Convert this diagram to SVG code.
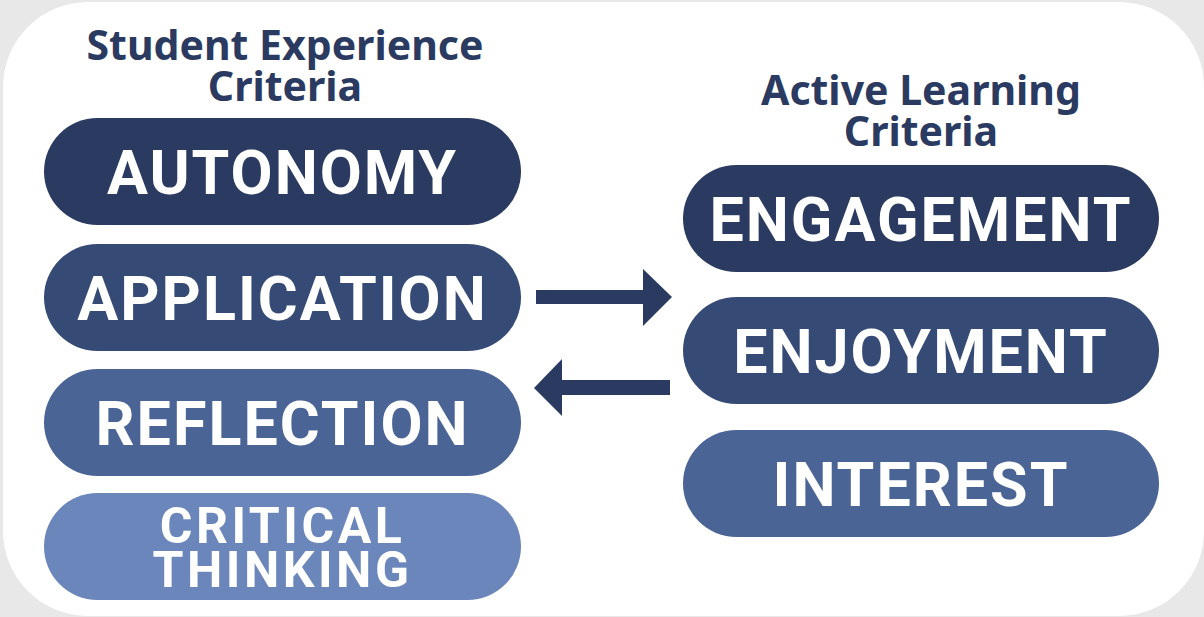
<svg xmlns="http://www.w3.org/2000/svg" width="1204" height="617" viewBox="0 0 1204 617">
  <style>
    .title { font-family: "Noto Sans", "Open Sans", sans-serif; font-weight: 700; font-size: 41px; fill: #2a3a60; text-anchor: middle; }
    .label { font-family: Roboto, "Noto Sans", sans-serif; font-weight: 700; font-size: 61px; fill: #ffffff; text-anchor: middle; letter-spacing: 2px; }
    .label-sm { font-size: 50px; letter-spacing: 3.5px; }
    .c1 { fill: #2a3a60; }
    .c2 { fill: #354a74; }
    .c3 { fill: #4a6496; }
    .c4 { fill: #6a86ba; }
    .arrow { fill: #2a3a60; }
  </style>
  <!-- backdrop and rounded white card -->
  <rect x="0" y="0" width="1204" height="617" fill="#e8e8e8"/>
  <rect x="3" y="2" width="1201" height="614" rx="85" ry="85" fill="#ffffff"/>

  <g id="title-student">
    <text class="title" x="285" y="60">Student Experience<tspan x="285" dy="41">Criteria</tspan></text>
  </g>
  <g id="title-active">
    <text class="title" x="921" y="105">Active Learning<tspan x="921" dy="41">Criteria</tspan></text>
  </g>

  <!-- left column -->
  <g id="autonomy">
    <rect class="c1" x="44" y="118" width="477" height="107" rx="53.5"/>
    <text class="label" x="282.5" y="194">AUTONOMY</text>
  </g>
  <g id="application">
    <rect class="c2" x="44" y="244" width="477" height="107" rx="53.5"/>
    <text class="label" x="282.5" y="320">APPLICATION</text>
  </g>
  <g id="reflection">
    <rect class="c3" x="44" y="369" width="477" height="107" rx="53.5"/>
    <text class="label" x="282.5" y="445">REFLECTION</text>
  </g>
  <g id="critical-thinking">
    <rect class="c4" x="44" y="493" width="477" height="107" rx="53.5"/>
    <text class="label label-sm" x="282.5" y="543">CRITICAL<tspan x="282.5" dy="44">THINKING</tspan></text>
  </g>

  <!-- right column -->
  <g id="engagement">
    <rect class="c1" x="683" y="165" width="476" height="107" rx="53.5"/>
    <text class="label" x="921" y="241">ENGAGEMENT</text>
  </g>
  <g id="enjoyment">
    <rect class="c2" x="683" y="297" width="476" height="107" rx="53.5"/>
    <text class="label" x="921" y="373">ENJOYMENT</text>
  </g>
  <g id="interest">
    <rect class="c3" x="683" y="430" width="476" height="107" rx="53.5"/>
    <text class="label" x="921" y="506">INTEREST</text>
  </g>

  <g id="connectors">
    <polygon class="arrow" points="536,290 643,290 643,269 672,297 643,326 643,304 536,304"/>
    <polygon class="arrow" points="670,380 562,380 562,359 534,388 562,416 562,395 670,395"/>
  </g>
</svg>
